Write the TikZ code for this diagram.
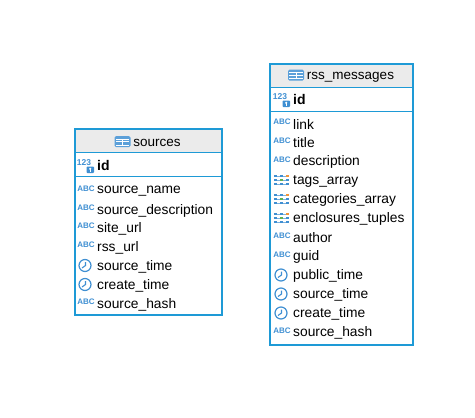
\documentclass[tikz,border=0pt]{standalone}
\usepackage{fontspec}
\setmainfont{Liberation Sans}
\usepackage{xcolor}
\usetikzlibrary{positioning}
\definecolor{tableblue}{HTML}{1E9AD6}
\definecolor{iconblue}{HTML}{3F8FD2}
\definecolor{headgray}{HTML}{EBEBEB}
\definecolor{arrayorange}{HTML}{F0953A}
\definecolor{arraygreen}{HTML}{5FB04F}
\tikzset{
  tablebox/.style = {shape=rectangle, draw=tableblue, line width=2pt, inner sep=0pt},
  headrow/.style = {shape=rectangle, draw=tableblue, line width=0.8pt, fill=headgray, inner sep=0pt, outer sep=0pt, minimum height=24pt},
  idrow/.style = {shape=rectangle, draw=tableblue, line width=0.8pt, inner sep=0pt, outer sep=0pt, minimum height=24pt},
  titletext/.style = {font=\fontsize{13.5}{15}\selectfont, inner sep=0pt},
  fieldtext/.style = {font=\fontsize{13.8}{15}\selectfont, inner sep=0pt, anchor=west},
  idtext/.style = {font=\fontsize{14}{15}\selectfont\bfseries, inner sep=0pt, anchor=west},
  abcicon/.pic = {\node[text=iconblue, font=\fontsize{8}{8}\selectfont\bfseries, inner sep=0pt] (-abc) at (1,1.5) {ABC};},
  clockicon/.pic = {
    \draw[iconblue, line width=1.2pt, fill=white] (0,0) circle (6);
    \draw[iconblue, line width=1.1pt] (0.5,3.5) -- (0.5,0) -- (-3,-2.5);},
  arrayicon/.pic = {
    \foreach \rowy/\midc/\endc in {4/iconblue/arrayorange, 0/arraygreen/iconblue, -4/iconblue/iconblue} {
      \draw[iconblue!70, line width=0.7pt] (-7,\rowy) -- (7,\rowy);
      \fill[iconblue] (-7.5,\rowy-1.3) rectangle (-4.5,\rowy+1.3);
      \fill[\midc] (-1.5,\rowy-1.3) rectangle (1.5,\rowy+1.3);
      \fill[\endc] (4.5,\rowy-1.3) rectangle (7.5,\rowy+1.3);
    }},
  keyicon/.pic = {
    \node[text=iconblue, font=\fontsize{8.5}{9}\selectfont\bfseries, inner sep=0pt] (-num) at (-1,3) {123};
    \fill[iconblue, rounded corners=0.8pt] (1.5,-7) rectangle (9,-0.5);
    \fill[white] (5.2,-2.8) circle (1.2);
    \fill[white] (4.7,-6) rectangle (5.7,-2.8);},
  tableicon/.pic = {
    \fill[iconblue!85, rounded corners=1.5pt] (-8,-5.5) rectangle (8,5.5);
    \fill[white] (-6.8,-0.4) rectangle (6.8,0.4);
    \fill[white] (-0.4,-4.2) rectangle (0.4,2.6);
    \fill[white] (-6.8,2.2) rectangle (6.8,3);
    \fill[white] (-6.8,-4.2) rectangle (6.8,-3.2);}
}
\begin{document}
\begin{tikzpicture}[x=1pt, y=1pt]
  \useasboundingbox (0,0) rectangle (475,-418);
  % sources table
  \node[headrow, minimum width=147pt] (srchead) at (148.2,-140.5) {};
  \node[idrow, minimum width=147pt, below=0pt of srchead] (srcid) {};
  \node[titletext] (srctitle) at (157,-142.8) {sources};
  \pic at (122.5,-141.5) {tableicon};
  \pic at (85,-166) {keyicon};
  \node[idtext] (srcidtext) at (97,-165.5) {id};
  \foreach \fname/\ficon/\fy [count=\i] in {
    source\_name/abcicon/190, source\_description/abcicon/209,
    site\_url/abcicon/227.5, rss\_url/abcicon/246.5,
    source\_time/clockicon/265.5, create\_time/clockicon/284.5,
    source\_hash/abcicon/303.5} {
    \node[fieldtext] (srcfield\i) at (97,-\fy-1.5) {\fname};
    \pic at (85,-\fy) {\ficon};
  }
  \node[tablebox, minimum width=147pt, minimum height=186.5pt] (sources) at (148.2,-222) {};
  % rss_messages table
  \node[headrow, minimum width=143pt] (rsshead) at (341,-75) {};
  \node[idrow, minimum width=143pt, below=0pt of rsshead] (rssid) {};
  \node[titletext] (rsstitle) at (350.5,-76.8) {rss\_messages};
  \pic at (296,-75) {tableicon};
  \pic at (281,-100) {keyicon};
  \node[idtext] (rssidtext) at (293,-99.5) {id};
  \foreach \fname/\ficon/\fy [count=\i] in {
    link/abcicon/123, title/abcicon/142, description/abcicon/161,
    tags\_array/arrayicon/180, categories\_array/arrayicon/199,
    enclosures\_tuples/arrayicon/218, author/abcicon/237,
    guid/abcicon/256, public\_time/clockicon/275,
    source\_time/clockicon/294, create\_time/clockicon/313,
    source\_hash/abcicon/332} {
    \node[fieldtext] (rssfield\i) at (293,-\fy-1) {\fname};
    \pic at (281,-\fy) {\ficon};
  }
  \node[tablebox, minimum width=143pt, minimum height=281pt] (rssmessages) at (341,-204) {};
\end{tikzpicture}
\end{document}
